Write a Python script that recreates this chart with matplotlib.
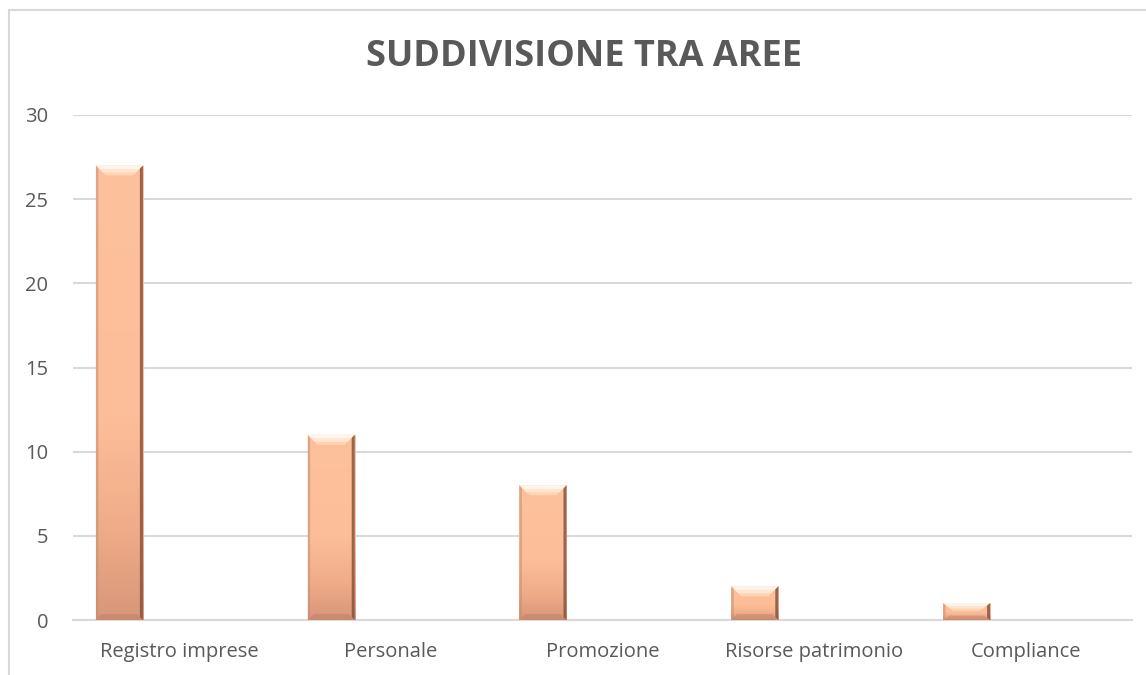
import numpy as np
import matplotlib.pyplot as plt
from matplotlib.patches import Rectangle, Polygon
from matplotlib.colors import LinearSegmentedColormap

# data
categories = ["Registro imprese", "Personale", "Promozione", "Risorse patrimonio", "Compliance"]
values = [27, 11, 8, 2, 1]
yticks = [0, 5, 10, 15, 20, 25, 30]

plt.rcParams['font.family'] = ['Open Sans', 'DejaVu Sans']
text_col = "#595959"
grid_col = "#D9D9D9"

fig = plt.figure(figsize=(11.46, 6.75), dpi=100)
ax = fig.add_axes([73 / 1146, 1 - 620 / 675, (1132 - 73) / 1146, (620 - 115) / 675])

# chart frame
fig.patches.append(Rectangle((9 / 1146, -0.05), 1.2, 1 - 10 / 675 + 0.05, transform=fig.transFigure,
                             fill=False, edgecolor="#D9D9D9", linewidth=1.5))

ax.set_xlim(-0.5, len(categories) - 0.5)
ax.set_ylim(0, 30)
ax.set_yticks(yticks)
ax.set_xticks(range(len(categories)))
ax.set_xticklabels(categories)
ax.tick_params(length=0, labelsize=14.5, colors=text_col)
ax.tick_params(axis="x", pad=16)
ax.tick_params(axis="y", pad=18)
for s in ["top", "right", "left"]:
    ax.spines[s].set_visible(False)
ax.spines["bottom"].set_color(grid_col)
ax.spines["bottom"].set_linewidth(1.5)
ax.yaxis.grid(True, color=grid_col, linewidth=1.5)
ax.set_axisbelow(True)

cmap = LinearSegmentedColormap.from_list(
    "peach", [(0, "#FDC19C"), (0.55, "#FCBE98"), (0.8, "#F0AC88"), (1, "#D8967A")])
grad = np.linspace(0, 1, 256).reshape(-1, 1)

offset = -0.281
width = 0.222
px_x = 1059 / 5.0   # pixels per category
px_y = 505 / 30.0   # pixels per unit
bx = 10 / px_x
by = 10 / px_y

for i, v in enumerate(values):
    x0 = i + offset - width / 2
    x1 = x0 + width
    rect = Rectangle((x0, 0), width, v, facecolor="#FBBC96", edgecolor="none", zorder=2)
    ax.add_patch(rect)
    im = ax.imshow(grad, extent=(x0, x1, 0, v), cmap=cmap, aspect="auto", origin="upper", zorder=3)
    im.set_clip_path(rect)
    bh = min(by, v * 0.45)
    # top bevel
    ax.add_patch(Polygon([(x0, v), (x1, v), (x1 - bx, v - bh), (x0 + bx, v - bh)],
                         closed=True, facecolor="#FFD4B5", edgecolor="none", zorder=4))
    ax.add_patch(Polygon([(x0, v), (x1, v), (x1 - bx * 0.7, v - bh * 0.7), (x0 + bx * 0.7, v - bh * 0.7)],
                         closed=True, facecolor="#FFE6D2", edgecolor="none", zorder=4))
    ax.add_patch(Polygon([(x0, v), (x1, v), (x1 - bx * 0.35, v - bh * 0.35), (x0 + bx * 0.35, v - bh * 0.35)],
                         closed=True, facecolor="#FFF5EC", edgecolor="none", zorder=4))
    # bottom bevel
    ax.add_patch(Polygon([(x0, 0), (x1, 0), (x1 - bx * 0.6, bh * 0.6), (x0 + bx * 0.6, bh * 0.6)],
                         closed=True, facecolor="#B77A60", edgecolor="none", alpha=0.4, zorder=4))
    # side edges
    ax.add_patch(Polygon([(x1, 0), (x1, v), (x1 - bx * 0.3, v - bh * 0.3), (x1 - bx * 0.3, bh * 0.3)],
                         closed=True, facecolor="#7E4F3C", edgecolor="none", alpha=0.8, zorder=5))
    ax.add_patch(Polygon([(x0, 0), (x0, v), (x0 + bx * 0.25, v - bh * 0.25), (x0 + bx * 0.25, bh * 0.25)],
                         closed=True, facecolor="#C08A70", edgecolor="none", alpha=0.5, zorder=5))

fig.text(584 / 1146, 1 - 57 / 675, "SUDDIVISIONE TRA AREE", ha="center", va="center",
         fontsize=26, fontweight="bold", color=text_col)

fig.savefig("out.png", dpi=100, facecolor="white")
